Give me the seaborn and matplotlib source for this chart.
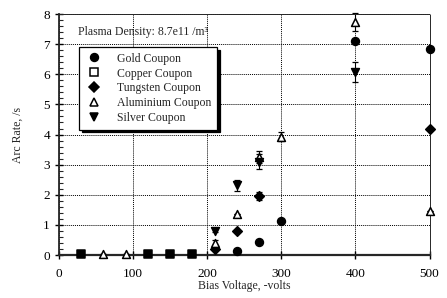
import numpy as np
import matplotlib
matplotlib.use("Agg")
import matplotlib.pyplot as plt
import seaborn as sns
from matplotlib.ticker import MultipleLocator
from matplotlib.lines import Line2D

# Data (bias voltage in -volts, arc rate in /s)
gold_x = [240, 270, 300, 400, 500]
gold_y = [0.12, 0.42, 1.12, 7.12, 6.85]

copper_x = [30, 120, 150, 180]
copper_y = [0.03, 0.04, 0.03, 0.03]

tungsten_x = [210, 240, 270, 500]
tungsten_y = [0.2, 0.8, 1.95, 4.2]
tungsten_err = [0.0, 0.0, 0.13, 0.0]

aluminium_x = [60, 90, 210, 240, 270, 300, 400, 500]
aluminium_y = [0.03, 0.03, 0.4, 1.35, 3.25, 3.92, 7.72, 1.45]
aluminium_err = [0.0, 0.0, 0.1, 0.0, 0.2, 0.15, 0.3, 0.0]

silver_x = [210, 240, 270, 400]
silver_y = [0.8, 2.32, 3.1, 6.08]
silver_err = [0.05, 0.18, 0.25, 0.32]

sns.set_style("ticks")
plt.rcParams['font.family'] = ['Liberation Serif', 'DejaVu Serif']

fig = plt.figure(figsize=(4.47, 2.98), dpi=100)
ax = fig.add_axes([0.132, 0.144, 0.829, 0.809])

# error bars first so markers sit on top
for xs, ys, err in [(tungsten_x, tungsten_y, tungsten_err),
                    (aluminium_x, aluminium_y, aluminium_err),
                    (silver_x, silver_y, silver_err)]:
    ax.errorbar(xs, ys, yerr=err, fmt='none', ecolor='black',
                elinewidth=0.8, capsize=2.5, capthick=0.9, clip_on=False)

series = [
    ("Gold Coupon", gold_x, gold_y, 'o', 'black', 32),
    ("Copper Coupon", copper_x, copper_y, 's', 'black', 38),
    ("Tungsten Coupon", tungsten_x, tungsten_y, 'D', 'black', 24),
    ("Aluminium Coupon", aluminium_x, aluminium_y, '^', 'white', 32),
    ("Silver Coupon", silver_x, silver_y, 'v', 'black', 32),
]

for label, xs, ys, mk, fc, sz in series:
    sns.scatterplot(x=xs, y=ys, ax=ax, marker=mk, s=sz, color=fc,
                    edgecolor='black', linewidth=1.1, clip_on=False, zorder=5)

ax.set_xlim(0, 500)
ax.set_ylim(0, 8)
ax.xaxis.set_major_locator(MultipleLocator(100))
ax.yaxis.set_major_locator(MultipleLocator(1))
ax.yaxis.set_minor_locator(MultipleLocator(0.2))

# dotted grid, top/right drawn as dotted lines too
ax.grid(True, which='major', linestyle=(0, (1, 1)), color='black', linewidth=0.7)
ax.spines['top'].set_linestyle((0, (1, 1)))
ax.spines['right'].set_linestyle((0, (1, 1)))
ax.spines['top'].set_linewidth(0.7)
ax.spines['right'].set_linewidth(0.7)
ax.spines['left'].set_linewidth(1.3)
ax.spines['bottom'].set_linewidth(1.6)

ax.tick_params(axis='both', which='major', direction='inout', length=6, width=1,
               labelsize=9.5, colors='black')
ax.tick_params(axis='y', which='minor', direction='in', length=3, width=0.8)
ax.tick_params(axis='x', pad=6)

ax.set_xlabel("Bias Voltage, -volts", fontsize=8.5, labelpad=0)
ax.set_ylabel("Arc Rate, /s", fontsize=8.5, labelpad=14)

ax.text(0.05, 0.925, "Plasma Density: 8.7e11 /m³", transform=ax.transAxes,
        fontsize=8.5, va='center', ha='left')

# legend handles (copper shown hollow in the key)
handles = [Line2D([], [], linestyle='none', marker=mk, markersize=np.sqrt(sz),
                  markerfacecolor=('white' if label.startswith(("Copper", "Aluminium")) else 'black'),
                  markeredgecolor='black', markeredgewidth=1.1)
           for label, xs, ys, mk, fc, sz in series]
labels = [s[0] for s in series]

leg = ax.legend(handles, labels, loc='upper left', bbox_to_anchor=(0.054, 0.862),
                borderaxespad=0, fontsize=8.5, frameon=True, fancybox=False,
                edgecolor='black', shadow={'color': 'black', 'alpha': 1},
                labelspacing=0.25, handletextpad=1.2, borderpad=0.45,
                handlelength=1.6)
leg.get_frame().set_linewidth(0.9)
leg.get_frame().set_alpha(1)

fig.savefig("out.png", dpi=100)
